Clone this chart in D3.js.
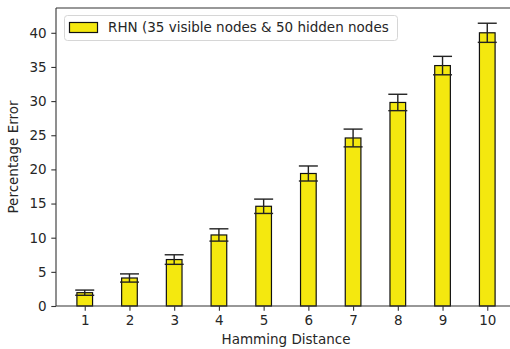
<!DOCTYPE html>
<html>
<head>
<meta charset="utf-8">
<script src="https://cdn.jsdelivr.net/npm/d3@7"></script>
<style>
  body { margin: 0; background: #fff; }
  text { font-family: "DejaVu Sans", sans-serif; fill: #262626; }
</style>
</head>
<body>
<script>
// DATA
var distances = [1, 2, 3, 4, 5, 6, 7, 8, 9, 10];
var errorValues = [1.95, 4.1, 6.8, 10.4, 14.6, 19.4, 24.6, 29.8, 35.2, 40.0];
var errorSpread = [0.38, 0.6, 0.7, 0.9, 1.05, 1.1, 1.3, 1.2, 1.35, 1.4];
var yTicks = [0, 5, 10, 15, 20, 25, 30, 35, 40];
var legendLabel = "RHN (35 visible nodes & 50 hidden nodes";

var svgWidth = 510;
var svgHeight = 349;
var fontSize = "13.5px";

var margin = { top: 8, left: 56 };
var plotRight = 516;
var plotBottom = 306;

var svg = d3.select("body")
  .append("svg")
  .attr("width", svgWidth)
  .attr("height", svgHeight);

// SCALES
var xScale = d3.scaleLinear().domain([0.3575, 10.6425]).range([margin.left, plotRight]);
var yScale = d3.scaleLinear().domain([0, 43.63]).range([plotBottom, margin.top]);

var barW = xScale(1.35) - xScale(1);
var capHalf = 9.5;

// BARS
var bars = svg.append("g");
bars.selectAll("rect")
  .data(distances)
  .enter()
  .append("rect")
  .attr("x", (d) => xScale(d) - barW / 2)
  .attr("y", (d, i) => yScale(errorValues[i]))
  .attr("width", barW)
  .attr("height", (d, i) => yScale(0) - yScale(errorValues[i]))
  .attr("fill", "#f4e80f")
  .attr("stroke", "#111")
  .attr("stroke-width", 1.2);

// ERROR BARS
var errGroup = svg.append("g").attr("stroke", "#222").attr("stroke-width", 1.4);
distances.forEach(function(d, i) {
  var cx = xScale(d);
  var lo = yScale(errorValues[i] - errorSpread[i]);
  var hi = yScale(errorValues[i] + errorSpread[i]);
  errGroup.append("line").attr("x1", cx).attr("x2", cx).attr("y1", lo).attr("y2", hi);
  errGroup.append("line").attr("x1", cx - capHalf).attr("x2", cx + capHalf).attr("y1", lo).attr("y2", lo);
  errGroup.append("line").attr("x1", cx - capHalf).attr("x2", cx + capHalf).attr("y1", hi).attr("y2", hi);
});

// AXES
var bottomAxis = d3.axisBottom(xScale).tickValues(distances).tickSize(4.7).tickPadding(4.7).tickFormat(d3.format("d"));
var leftAxis = d3.axisLeft(yScale).tickValues(yTicks).tickSize(4.7).tickPadding(4.7);

var xAxisG = svg.append("g")
  .attr("transform", `translate(0, ${plotBottom})`)
  .call(bottomAxis);
var yAxisG = svg.append("g")
  .attr("transform", `translate(${margin.left}, 0)`)
  .call(leftAxis);

[xAxisG, yAxisG].forEach(function(g) {
  g.select(".domain").remove();
  g.selectAll(".tick line").attr("stroke", "#333").attr("stroke-width", 1.1);
  g.selectAll(".tick text").style("font-size", fontSize).style("font-family", "DejaVu Sans").attr("fill", "#262626");
});

// SPINES
var spines = svg.append("g").attr("stroke", "#333").attr("stroke-width", 1.1).attr("fill", "none");
spines.append("line").attr("x1", margin.left).attr("x2", margin.left).attr("y1", margin.top).attr("y2", plotBottom);
spines.append("line").attr("x1", margin.left).attr("x2", plotRight).attr("y1", plotBottom).attr("y2", plotBottom);
spines.append("line").attr("x1", margin.left).attr("x2", plotRight).attr("y1", margin.top).attr("y2", margin.top);

// AXIS LABELS
svg.append("text")
  .attr("x", 286)
  .attr("y", 344)
  .attr("text-anchor", "middle")
  .style("font-size", fontSize)
  .text("Hamming Distance");

svg.append("text")
  .attr("transform", "translate(17.5, 157) rotate(-90)")
  .attr("text-anchor", "middle")
  .style("font-size", fontSize)
  .text("Percentage Error");

// LEGEND
var legend = svg.append("g");
legend.append("rect")
  .attr("x", 64.5).attr("y", 15.5)
  .attr("width", 333).attr("height", 25)
  .attr("rx", 3)
  .attr("fill", "#fff").attr("fill-opacity", 0.8)
  .attr("stroke", "#d6d6d6");
legend.append("rect")
  .attr("x", 69.5).attr("y", 22.5)
  .attr("width", 28).attr("height", 10)
  .attr("fill", "#f4e80f")
  .attr("stroke", "#111").attr("stroke-width", 1.2);
legend.append("text")
  .attr("x", 108).attr("y", 32.3)
  .style("font-size", fontSize)
  .text(legendLabel);
</script>
</body>
</html>
